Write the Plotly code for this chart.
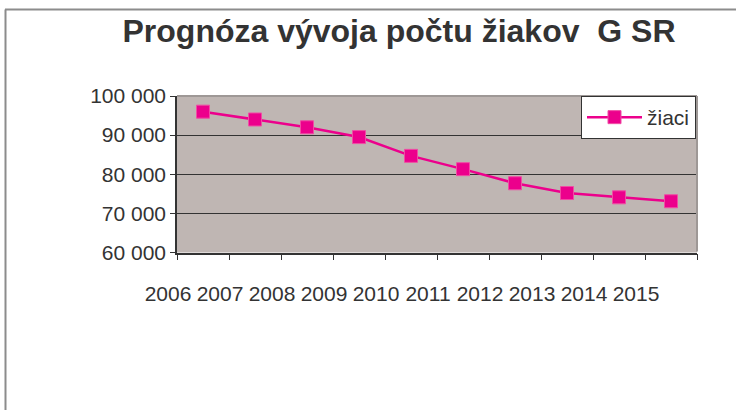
import plotly.graph_objects as go

years = ["2006", "2007", "2008", "2009", "2010", "2011", "2012", "2013", "2014", "2015"]
ziaci = [96000, 94000, 92000, 89500, 84700, 81300, 77700, 75200, 74100, 73100]

W, H = 736, 410
FONT = "Liberation Sans, Arial, Helvetica, sans-serif"
TXT = "#333333"
PINK = "#EC008C"

def px(x):
    return x / W

def py(y):
    return 1 - y / H

fig = go.Figure()
fig.add_trace(go.Scatter(
    x=years, y=ziaci, name="žiaci", mode="lines+markers",
    line=dict(color=PINK, width=2.5),
    marker=dict(symbol="square", size=13, color=PINK, line=dict(color="#F04CA4", width=1)),
))

fig.update_layout(
    width=W, height=H,
    margin=dict(l=0, r=0, t=0, b=0, autoexpand=False),
    paper_bgcolor="white",
    plot_bgcolor="#BFB6B3",
    separators=". ",
    font=dict(family=FONT, size=21, color=TXT),
    title=dict(text="Prognóza vývoja počtu žiakov\u00a0 G SR", x=px(399), y=py(31),
               xanchor="center", yanchor="middle", automargin=False,
               font=dict(family=FONT, size=32, color=TXT, weight="bold")),
    showlegend=True,
    legend=dict(x=px(581), y=py(96), xanchor="left", yanchor="top",
                bgcolor="white", bordercolor=TXT, borderwidth=1, itemwidth=55,
                font=dict(family=FONT, size=21, color=TXT)),
    xaxis=dict(domain=[px(177), px(697)], type="category", automargin=False,
               range=[-0.5, len(years) - 0.5],
               showgrid=False, showline=True, linecolor=TXT, linewidth=1.5,
               ticks="outside", tickson="boundaries", ticklen=6, tickcolor=TXT,
               tickangle=0, ticklabelshift=-35, ticklabelstandoff=22,
               tickfont=dict(family=FONT, size=21, color=TXT), zeroline=False),
    yaxis=dict(domain=[py(252.5), py(96)], range=[60000, 100000], dtick=10000,
               automargin=False,
               tickformat=",d", showgrid=True, gridcolor=TXT, gridwidth=1,
               showline=True, linecolor=TXT, linewidth=1.5,
               ticks="outside", ticklen=5, tickcolor=TXT,
               tickfont=dict(family=FONT, size=21, color=TXT), zeroline=False),
    shapes=[
        dict(type="line", xref="paper", yref="paper", x0=px(5), x1=1, y0=py(9.5), y1=py(9.5),
             line=dict(color="#8C8C8C", width=2)),
        dict(type="line", xref="paper", yref="paper", x0=px(5.5), x1=px(5.5), y0=0, y1=py(9.5),
             line=dict(color="#8C8C8C", width=2)),
        dict(type="line", xref="paper", yref="paper", x0=px(177), x1=px(697), y0=py(96), y1=py(96),
             line=dict(color="#9E9896", width=2), layer="above"),
        dict(type="line", xref="paper", yref="paper", x0=px(697), x1=px(697), y0=py(96), y1=py(251.5),
             line=dict(color="#9E9896", width=2), layer="above"),
    ],
)

fig.write_html("out.html", config={"displayModeBar": False},
               post_script="document.body.style.margin='0';document.body.style.overflow='hidden';")
